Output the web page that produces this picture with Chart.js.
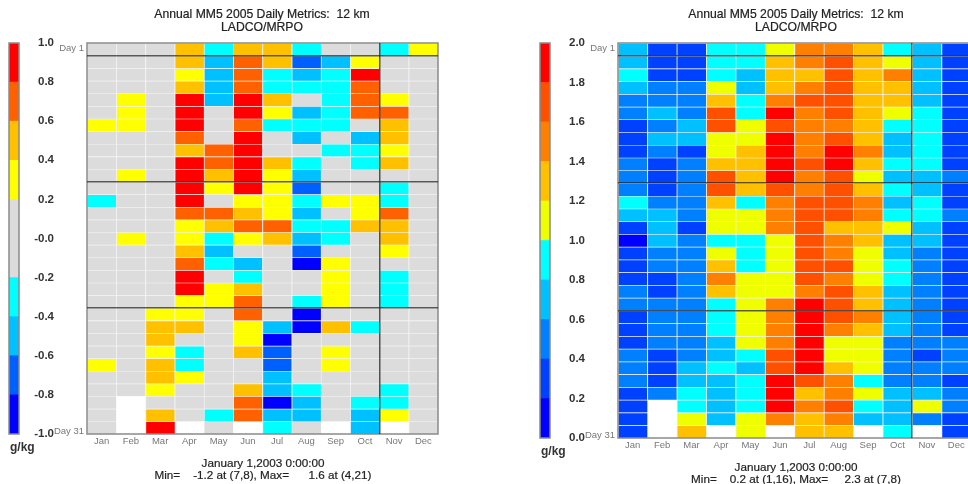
<!DOCTYPE html>
<html>
<head>
<meta charset="utf-8">
<title>Annual MM5 2005 Daily Metrics</title>
<script src="https://cdn.jsdelivr.net/npm/chart.js@4"></script>
<style>
  html, body { margin: 0; padding: 0; background: #fff; overflow: hidden; width: 968px; height: 484px; }
  body { position: relative; font-family: "Liberation Sans", sans-serif; }
  canvas { position: absolute; filter: blur(0.45px); }
  .txt { position: absolute; text-align: center; color: #222; font-size: 11.7px; line-height: 12px; white-space: pre; filter: blur(0.35px); -webkit-text-stroke: 0.2px #222; }
  .tit { font-size: 12.2px; line-height: 12.5px; }
  .unit { position: absolute; font-weight: bold; color: #333; font-size: 12px; filter: blur(0.35px); }
</style>
</head>
<body>
<canvas id="bar_esq" width="62" height="410" style="left:0;top:38px"></canvas>
<canvas id="graph_esq" width="400" height="410" style="left:50px;top:38px"></canvas>
<canvas id="bar_dir" width="62" height="414" style="left:531px;top:38px"></canvas>
<canvas id="graph_dir" width="420" height="414" style="left:581px;top:38px"></canvas>

<div class="txt tit" style="left:112px;width:300px;top:8px">Annual MM5 2005 Daily Metrics:  12 km
LADCO/MRPO</div>
<div class="txt tit" style="left:646px;width:300px;top:8px">Annual MM5 2005 Daily Metrics:  12 km
LADCO/MRPO</div>
<div class="unit" style="left:10px;top:440px">g/kg</div>
<div class="unit" style="left:541px;top:444px">g/kg</div>
<div class="txt" style="left:113px;width:300px;top:457px">January 1,2003 0:00:00
Min=    -1.2 at (7,8), Max=      1.6 at (4,21)</div>
<div class="txt" style="left:646px;width:300px;top:461px">January 1,2003 0:00:00
Min=    0.2 at (1,16), Max=     2.3 at (7,8)</div>

<script>
const meses = ["Jan", "Feb", "Mar", "Apr", "May", "Jun", "Jul", "Aug", "Sep", "Oct", "Nov", "Dec"];
const dias = 31;

// Left panel, one array per month, day 1 to 31 (null = no data)
const esqJan = [0,0,0,0,0,0,.3,0,0,0, 0,0,-.3,0,0,0,0,0,0,0, 0,0,0,0,0,.3,0,0,0,0, 0];
const esqFeb = [0,0,0,0,.3,.3,.3,0,0,0, .3,0,0,0,0,.3,0,0,0,0, 0,0,0,0,0,0,0,0,null,null, null];
const esqMar = [0,0,0,0,0,0,0,0,0,0, 0,0,0,0,0,0,0,0,0,0, 0,.3,.5,.5,.3,.5,.5,.3,0,.5, .9];
const esqApr = [.5,.5,.3,.5,.9,.9,.9,.7,.5,.9, .9,.9,.9,.7,.3,.3,.5,.7,.9,.9, .3,.3,.5,0,-.3,-.3,.3,0,0,0, null];
const esqMay = [-.3,-.5,-.5,-.5,-.5,0,0,0,.7,.7, .5,.3,0,.7,.5,-.3,-.5,-.3,0,.3, .3,0,0,0,0,0,0,0,0,-.3, 0];
const esqJun = [.5,.7,.7,.7,.9,.9,.7,.9,.9,.9, .9,.9,.3,.5,.7,.3,0,-.5,-.3,.5, .7,.7,.3,.3,.5,0,0,.5,.7,.7, null];
const esqJul = [.5,.5,-.3,-.3,.5,.3,-.3,0,0,.5, .3,.3,.3,.3,.7,.5,0,0,0,0, 0,0,-.5,-.9,-.7,-.7,-.5,-.5,-.9,-.5, -.3];
const esqAug = [-.3,-.7,-.5,-.3,0,-.5,-.3,-.5,0,-.3, -.5,-.7,-.3,-.5,-.3,-.5,-.7,-.9,0,0, -.3,-.9,-.9,0,0,0,0,-.3,-.5,-.5, 0];
const esqSep = [0,-.5,-.3,-.3,-.3,-.3,-.3,0,-.3,0, 0,0,.3,0,-.3,-.3,0,.3,.3,.3, .3,0,.5,0,.3,.3,0,0,0,0, null];
const esqOct = [0,.3,.9,.7,.7,.7,0,-.5,-.3,-.3, 0,0,.3,.3,.5,0,0,0,0,0, 0,0,-.3,0,0,0,0,0,-.3,-.5, -.5];
const esqNov = [-.3,0,0,0,.3,.7,.5,.5,.3,.5, 0,-.3,-.3,.7,.5,.5,.3,0,-.3,-.3, -.3,0,0,0,0,0,0,-.3,-.3,.3, null];
const esqDec = [.3,0,0,0,0,0,0,0,0,0, 0,0,0,0,0,0,0,0,0,0, 0,0,0,0,0,0,0,0,0,0, 0];

// Right panel
const dirJan = [.7,.7,.9,.7,.5,.5,.3,.3,.3,.5, .5,.5,.9,.7,.3,.1,.3,.3,.3,.5, .5,.3,.3,.3,.5,.5,.5,.3,.3,.3, .3];
const dirFeb = [.3,.3,.3,.5,.5,.7,.5,.7,.5,.3, .3,.3,.5,.7,.7,.7,.5,.5,.3,.3, .5,.5,.5,.5,.3,.3,.3,.5,null,null, null];
const dirMar = [.3,.3,.3,.5,.5,.5,.7,.7,.3,.5, .5,.5,.5,.5,.3,.5,.5,.5,.5,.5, .5,.5,.5,.5,.5,.7,.7,.9,.9,1.1, 1.3];
const dirApr = [.9,.9,.9,1.1,1.3,1.7,1.7,1.1,1.1,1.3, 1.7,1.7,1.3,1.1,1.1,.9,1.1,1.3,1.5,1.3, .9,.9,.9,.7,.7,.9,.7,.7,.7,.7, null];
const dirMay = [.9,.9,.7,.7,.9,.9,1.1,1.1,1.3,1.3, 1.3,1.3,.9,1.1,1.1,.9,.9,.9,1.1,1.1, 1.1,1.1,1.1,1.1,.9,.7,.9,.9,.9,1.1, 1.1];
const dirJun = [1.1,1.3,1.3,1.3,1.5,1.9,1.7,1.9,1.9,1.9, 1.9,1.7,1.5,1.5,1.5,1.1,1.1,1.1,1.1,1.1, 1.5,1.5,1.5,1.5,1.7,1.7,1.9,1.9,1.9,1.5, null];
const dirJul = [1.5,1.5,1.3,1.5,1.7,1.5,1.5,1.5,1.5,1.7, 1.5,1.5,1.7,1.7,1.7,1.7,1.7,1.7,1.7,1.5, 1.9,1.9,1.9,1.9,1.9,1.9,1.7,1.3,1.5,1.3, 1.3];
const dirAug = [1.5,1.7,1.7,1.7,1.7,1.7,1.5,1.7,1.9,1.9, 1.7,1.7,1.7,1.7,1.3,1.5,1.5,1.7,1.5,1.7, 1.7,1.7,1.5,1.1,1.1,1.3,1.5,1.5,1.7,1.5, 1.3];
const dirSep = [1.3,1.3,1.3,1.3,1.3,1.3,1.3,1.3,1.5,1.3, 1.1,1.3,1.5,1.5,1.3,1.3,1.1,1.1,1.1,1.3, 1.3,1.5,1.3,1.1,1.1,1.1,.9,1.1,.9,.7, null];
const dirOct = [.9,1.1,1.5,1.3,1.3,1.1,.9,.7,.7,.9, .7,.9,.7,.9,1.1,.7,.7,.9,.9,.7, .7,.7,.7,.5,.5,.5,.5,.7,.7,.7, .9];
const dirNov = [.7,.7,.7,.7,.7,.9,.9,.9,.9,.9, .7,.7,.9,.9,.7,.7,.5,.5,.5,.5, .5,.5,.5,.5,.3,.5,.5,.7,1.1,.5, null];
const dirDec = [.3,.3,.3,.3,.3,.3,.3,.3,.3,.3, .5,.3,.3,.5,.3,.3,.3,.3,.3,.3, .3,.3,.3,.5,.5,.5,.3,.5,.5,.3, .3];

const esqDados = [esqJan, esqFeb, esqMar, esqApr, esqMay, esqJun, esqJul, esqAug, esqSep, esqOct, esqNov, esqDec];
const dirDados = [dirJan, dirFeb, dirMar, dirApr, dirMay, dirJun, dirJul, dirAug, dirSep, dirOct, dirNov, dirDec];

// Colour bands
const esqNiveis = [-1, -0.8, -0.6, -0.4, -0.2, 0.2, 0.4, 0.6, 0.8, 1];
const esqCores = ["#0000ff", "#0060ff", "#00c0ff", "#00ffff", "#dcdcdc", "#ffff00", "#ffc000", "#ff6000", "#ff0000"];
const dirNiveis = [0, 0.2, 0.4, 0.6, 0.8, 1, 1.2, 1.4, 1.6, 1.8, 2];
const dirCores = ["#0000ff", "#0040ff", "#0080ff", "#00c0ff", "#00ffff", "#f0ff00", "#ffc000", "#ff8000", "#ff5000", "#ff0000"];

function corDoValor(valor, niveis, cores) {
  for (let i = 0; i < cores.length; i++) {
    if (valor < niveis[i + 1]) return cores[i];
  }
  return cores[cores.length - 1];
}

// Frame around the plot
const moldura = {
  id: "moldura",
  afterDatasetsDraw(chart) {
    const a = chart.chartArea;
    const ctx = chart.ctx;
    ctx.save();
    ctx.strokeStyle = chart.options.plugins.moldura.cor;
    ctx.lineWidth = 1.5;
    ctx.strokeRect(a.left, a.top, a.right - a.left, a.bottom - a.top);
    ctx.restore();
  },
};

function heatmap(id, dados, niveis, cores, direita) {
  const datasets = [];
  for (let d = 0; d < dias; d++) {
    datasets.push({
      label: "Day " + (d + 1),
      data: dados.map((mes) => (mes[d] === null ? null : [d, d + 1])),
      backgroundColor: dados.map((mes) => corDoValor(mes[d], niveis, cores)),
      borderColor: "#f2f2f2",
      borderWidth: { top: 1, left: 1 },
      borderSkipped: false,
      barPercentage: 1,
      categoryPercentage: 1,
    });
  }

  new Chart(document.getElementById(id), {
    type: "bar",
    data: { labels: meses, datasets: datasets },
    plugins: [moldura],
    options: {
      responsive: false,
      animation: false,
      layout: { padding: { top: 5, right: direita, bottom: 0, left: 0 } },
      plugins: {
        legend: { display: false },
        tooltip: { enabled: false },
        moldura: { cor: "#8a8a8a" },
      },
      scales: {
        x: {
          stacked: true,
          afterFit: (s) => {
            s.height = 14;
            s.paddingLeft = 0;
            s.paddingRight = 0;
          },
          grid: {
            z: 1,
            drawTicks: false,
            lineWidth: 1.5,
            color: (ctx) => (ctx.index === 10 ? "rgba(40,40,40,0.8)" : "rgba(0,0,0,0)"),
          },
          border: { display: false },
          ticks: { padding: 2, maxRotation: 0, autoSkip: false, color: "#777", font: { family: "Liberation Sans", size: 9.5 } },
        },
        y: {
          reverse: true,
          min: 0,
          max: dias,
          afterFit: (s) => {
            s.width = 37;
            s.paddingTop = 0;
            s.paddingBottom = 0;
          },
          afterBuildTicks: (s) => {
            s.ticks = [0.4, 1, 11, 21, 30.8].map((v) => ({ value: v }));
          },
          grid: {
            z: 1,
            drawTicks: false,
            lineWidth: 1.5,
            color: (ctx) => (ctx.tick && Number.isInteger(ctx.tick.value) ? "rgba(40,40,40,0.75)" : "rgba(0,0,0,0)"),
          },
          border: { display: false },
          ticks: {
            padding: 3,
            autoSkip: false,
            color: "#777",
            font: { family: "Liberation Sans", size: 9.5 },
            callback: (v) => (v === 0.4 ? "Day 1" : v === 30.8 ? "Day 31" : ""),
          },
        },
      },
    },
  });
}

function barraCores(id, niveis, cores, negativo) {
  const datasets = cores.map((cor, i) => ({
    label: niveis[i] + " a " + niveis[i + 1],
    data: [[niveis[i], niveis[i + 1]]],
    backgroundColor: cor,
    barPercentage: 1,
    categoryPercentage: 1,
  }));

  new Chart(document.getElementById(id), {
    type: "bar",
    data: { labels: ["g/kg"], datasets: datasets },
    plugins: [moldura],
    options: {
      responsive: false,
      animation: false,
      layout: { padding: { top: 5, right: 8, bottom: 14, left: 9 } },
      plugins: {
        legend: { display: false },
        tooltip: { enabled: false },
        moldura: { cor: "#8a8a8a" },
      },
      scales: {
        x: { stacked: true, display: false },
        y: {
          position: "right",
          min: niveis[0],
          max: niveis[niveis.length - 1],
          afterFit: (s) => {
            s.width = 35;
            s.paddingTop = 0;
            s.paddingBottom = 0;
          },
          grid: { display: false, drawTicks: false },
          border: { display: false },
          ticks: {
            stepSize: 0.2,
            crossAlign: "far",
            padding: 0,
            color: "#333",
            font: { family: "Liberation Sans", size: 11.5, weight: "bold" },
            callback: (v) => (negativo && Math.abs(v) < 0.01 ? "-0.0" : Number(v).toFixed(1)),
          },
        },
      },
    },
  });
}

barraCores("bar_esq", esqNiveis, esqCores, true);
heatmap("graph_esq", esqDados, esqNiveis, esqCores, 12);
barraCores("bar_dir", dirNiveis, dirCores, false);
heatmap("graph_dir", dirDados, dirNiveis, dirCores, 30);
</script>
</body>
</html>
